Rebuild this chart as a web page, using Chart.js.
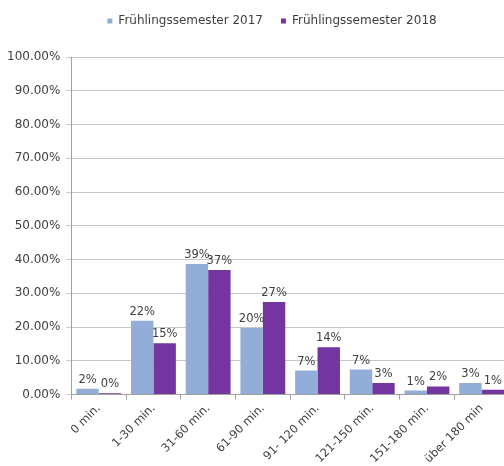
<!DOCTYPE html>
<html>
<head>
<meta charset="utf-8">
<script src="https://cdn.jsdelivr.net/npm/chart.js@4/dist/chart.umd.min.js"></script>
<style>
html,body{margin:0;padding:0;background:#fff;overflow:hidden;width:504px;height:466px;}
#wrap{width:530px;height:466px;position:relative;}
</style>
</head>
<body>
<div id="wrap"><canvas id="c" width="530" height="466"></canvas></div>
<script>
const categories = ["0 min.", "1-30 min.", "31-60 min.", "61-90 min.", "91- 120 min.", "121-150 min.", "151-180 min.", "über 180 min"];
const series2017 = [1.7, 21.9, 38.7, 19.7, 7.1, 7.4, 1.2, 3.4];
const series2018 = [0.4, 15.2, 36.9, 27.4, 14.0, 3.4, 2.4, 1.4];
const seriesNames = ["Frühlingssemester 2017", "Frühlingssemester 2018"];
const yTicks = [0, 10, 20, 30, 40, 50, 60, 70, 80, 90, 100];

const FONT = "'DejaVu Sans', sans-serif";
const TXT = '#404040';

const labelPlugin = {
  id: 'barLabels',
  afterDatasetsDraw(chart) {
    const ctx = chart.ctx;
    ctx.save();
    ctx.font = '11.5px ' + FONT;
    ctx.fillStyle = TXT;
    ctx.textAlign = 'center';
    ctx.textBaseline = 'alphabetic';
    chart.data.datasets.forEach((ds, di) => {
      const meta = chart.getDatasetMeta(di);
      meta.data.forEach((bar, i) => {
        const v = ds.data[i];
        ctx.fillText(Math.round(v) + '%', bar.x, bar.y - 6);
      });
    });
    ctx.restore();
  }
};

const legendTweak = {
  id: 'legendTweak',
  beforeInit(chart) {
    const lg = chart.legend;
    const origFit = lg.fit;
    lg.fit = function () {
      origFit.call(this);
      this.height += 20;
    };
    const origDraw = lg.draw;
    lg.draw = function () {
      const ctx = this.ctx;
      ctx.save();
      ctx.translate(17, 0);
      origDraw.call(this);
      ctx.restore();
    };
  }
};

new Chart(document.getElementById('c'), {
  type: 'bar',
  data: {
    labels: categories,
    datasets: [
      { label: seriesNames[0], data: series2017, backgroundColor: '#93ADD9', borderWidth: 0 },
      { label: seriesNames[1], data: series2018, backgroundColor: '#7336A0', borderWidth: 0 }
    ]
  },
  options: {
    responsive: false,
    animation: false,
    devicePixelRatio: 1,
    layout: { padding: { left: 1, right: 21, top: -3, bottom: -2 } },
    datasets: { bar: { categoryPercentage: 0.82, barPercentage: 1.0 } },
    plugins: {
      legend: {
        position: 'top',
        labels: {
          font: { family: FONT, size: 12 },
          color: TXT,
          boxWidth: 5,
          boxHeight: 5,
          padding: 18
        }
      },
      tooltip: { enabled: false }
    },
    scales: {
      x: {
        grid: { display: true, drawOnChartArea: false, drawTicks: true, tickLength: 5, offset: true, color: '#a0a0a0' },
        border: { display: true, color: '#a0a0a0' },
        ticks: {
          font: { family: FONT, size: 11.5 },
          color: TXT,
          minRotation: 45,
          maxRotation: 45,
          padding: 2
        }
      },
      y: {
        min: 0,
        max: 100,
        afterBuildTicks(scale) { scale.ticks = yTicks.map(v => ({ value: v })); },
        grid: { color: '#c8c8c8', tickLength: 5, drawTicks: true },
        border: { display: true, color: '#a0a0a0' },
        ticks: {
          font: { family: FONT, size: 12 },
          color: TXT,
          padding: 6,
          callback: v => v.toFixed(2) + '%'
        }
      }
    }
  },
  plugins: [labelPlugin, legendTweak]
});
</script>
</body>
</html>
